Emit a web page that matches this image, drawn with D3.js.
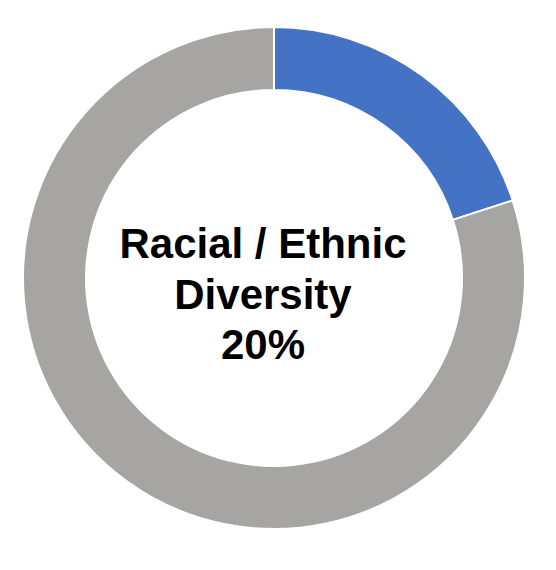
<!DOCTYPE html>
<html>
<head>
<meta charset="utf-8">
<script src="https://cdn.jsdelivr.net/npm/d3@7"></script>
<style>
  html, body { margin: 0; padding: 0; background: #ffffff; }
  svg { display: block; }
</style>
</head>
<body>
<svg id="chart" width="556" height="570"></svg>
<script>
const categories = ["Racial / Ethnic Diversity", "Other"];
const values = [20, 80];
const colors = ["#4472C4", "#A7A5A4"];
const labelLines = ["Racial / Ethnic", "Diversity", "20%"];

const svg = d3.select("#chart");
const cx = 274, cy = 278;
const outerR = 251, innerR = 188;

const pie = d3.pie().sort(null).value(d => d.value)
  .startAngle(0).endAngle(2 * Math.PI);
const arc = d3.arc().innerRadius(innerR).outerRadius(outerR);

const data = categories.map((c, i) => ({ category: c, value: values[i] }));
const color = d3.scaleOrdinal().domain(categories).range(colors);

const g = svg.append("g").attr("transform", `translate(${cx},${cy})`);
g.selectAll("path")
  .data(pie(data))
  .join("path")
  .attr("d", arc)
  .attr("fill", d => color(d.data.category))
  .attr("stroke", "#ffffff")
  .attr("stroke-width", 2);

const text = svg.append("text")
  .attr("x", 263)
  .attr("text-anchor", "middle")
  .attr("font-family", "'Liberation Sans', Arial, sans-serif")
  .attr("font-weight", "bold")
  .attr("font-size", 42)
  .attr("fill", "#000000");
const baselines = [258, 309, 359];
labelLines.forEach((t, i) => {
  text.append("tspan").attr("x", 263).attr("y", baselines[i]).text(t);
});
</script>
</body>
</html>
